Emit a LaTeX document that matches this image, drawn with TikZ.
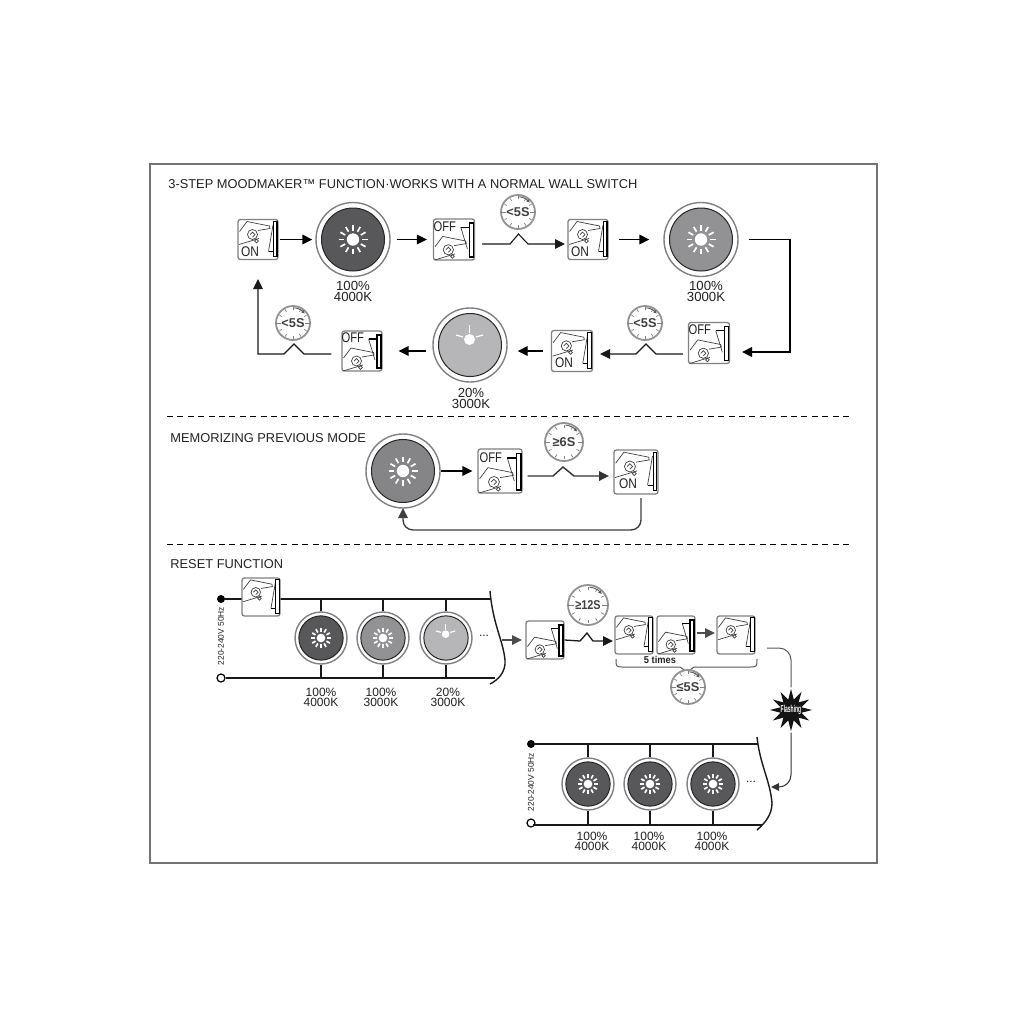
\documentclass[tikz,border=0pt]{standalone}
\usepackage{fontspec}
\usepackage{graphicx}
\setmainfont{Liberation Sans}
\usetikzlibrary{arrows.meta,shapes.geometric}
\newcommand\fsz[1]{\fontsize{#1}{#1}\selectfont}
\definecolor{ink}{HTML}{222222}
\definecolor{edge}{HTML}{808080}
\definecolor{lampA}{HTML}{58585A}
\definecolor{lampB}{HTML}{929294}
\definecolor{lampC}{HTML}{B6B6B8}
\definecolor{lampD}{HTML}{858587}
\tikzset{
  conn/.style={line width=.7pt,draw=black},
  thinconn/.style={line width=.55pt,draw=black!90},
  tip/.style={-{Triangle[length=5pt,width=4.8pt]}},
  smalltip/.style={-{Triangle[length=4pt,width=3.8pt]}},
  swbox/.style={draw=edge,fill=white,line width=.65pt,rounded corners=1.2pt,inner sep=0pt},
  lampout/.style={circle,draw=edge,fill=white,line width=.7pt,inner sep=0pt},
  clockface/.style={circle,draw=edge!85,fill=white,line width=.9pt,inner sep=0pt,text=black!75,font=\bfseries\fsz{6.4pt}},
  lbl/.style={text=ink,inner sep=0pt,align=center,font=\fsz{6.6pt}},
  slbl/.style={text=ink,inner sep=0pt,align=center,font=\fsz{6pt}},
  head/.style={text=ink,inner sep=0pt,anchor=west,font=\fsz{6.42pt}},
  volt/.style={text=ink,inner sep=0pt,rotate=90,font=\fsz{4.2pt}},
  rail/.style={line width=.7pt,draw=black!90},
  divider/.style={line width=.5pt,draw=black,dash pattern=on 3pt off 2.2pt},
  handline/.style={line width=.35pt,draw=black!75},
}
\newcommand\handshape{%
  \draw[handline] (-18.5,-8) -- (-11,-18) -- (11.5,-13.5) -- (12,-11) -- (0,-9);
  \draw[handline] (1,-1) -- (-19,5);
  \draw[handline] (-5.5,-5) circle (5);
  \draw[handline] (-8,-5) -- (-5.5,-7.5) -- (-3,-5) -- (-5.5,-2.5);
  \draw[handline] (-1.5,1.5) circle (1.8);
}
% name x y size text
\newcommand\swon[5]{%
  \node[swbox,minimum size=#4*.5pt] (#1) at (#2,#3) {};
  \begin{scope}[shift={(#1.center)},scale=#4/40]
    \handshape
    \draw[handline] (15,-14.5) -- (10.5,12);
    \draw[line width=.5pt] (10.5,12) -- (15.5,12);
    \draw[line width=.55pt,fill=white] (15.5,-18) rectangle (19,17);
  \end{scope}
  \node[text=ink,inner sep=0pt] (#1t) at ([xshift=-4pt,yshift=-6pt]#1.center) {\fsz{7pt}\scalebox{.85}[1]{#5}};
}
\newcommand\swoff[5]{%
  \node[swbox,minimum size=#4*.5pt] (#1) at (#2,#3) {};
  \begin{scope}[shift={(#1.center)},scale=#4/40]
    \begin{scope}[shift={(0,15)}]\handshape\end{scope}
    \draw[handline] (13,9) -- (6.6,-12);
    \draw[line width=.7pt] (6.6,-12) -- (15,-12);
    \draw[line width=.8pt,fill=white] (15,-16) rectangle (19,17);
  \end{scope}
  \node[text=ink,inner sep=0pt] (#1t) at ([xshift=-4.6pt,yshift=6.5pt]#1.center) {\fsz{7pt}\scalebox{.8}[1]{#5}};
}
% name x y R fill
\newcommand\lampbase[5]{%
  \node[lampout,minimum size=#4*1pt] (#1) at (#2,#3) {};
  \begin{scope}[shift={(#1.center)},scale=#4/37]
    \draw[line width=.5pt,draw=black!85,fill=#5] (0,0) circle (31.5);
}
\newcommand\lampsun[5]{%
  \lampbase{#1}{#2}{#3}{#4}{#5}
    \fill[white] (0,0) circle (6.2);
    \foreach \a in {0,30,...,330}
      \draw[white,line width=.85pt] (\a:9) -- (\a:14.5);
  \end{scope}
}
\newcommand\lampdim[5]{%
  \lampbase{#1}{#2}{#3}{#4}{#5}
    \fill[white] (-.5,-5.5) circle (5.5);
    \draw[white,line width=.6pt] (-.5,-12) -- (-.5,-20);
    \draw[white,line width=.6pt] (-7,-8) -- (-14,-10);
    \draw[white,line width=.6pt] (6,-8) -- (13,-10);
  \end{scope}
}
% name x y r text
\newcommand\clocknode[5]{%
  \node[clockface,minimum size=#4*1pt] (#1) at (#2,#3) {#5};
  \begin{scope}[shift={(#1.center)}]
    \foreach \a in {30,60,120,150,210,240,300,330,90,270}
      \draw[edge,line width=.35pt] (\a:{#4*.76}) -- (\a:{#4*.92});
    \draw[edge,line width=.45pt] (-#4*.98,0) -- (-#4*.72,0);
    \draw[edge,line width=.45pt] (#4*.98,0) -- (#4*.72,0);
    \draw[black!65,line width=.45pt,-{Latex[length=1.8pt,width=1.8pt]}] (-85:{#4*.9}) -- (-70:{#4*.9}) -- (-55:{#4*.9}) -- (-38:{#4*.88});
  \end{scope}
}
\begin{document}
\begin{tikzpicture}[x=.5pt,y=-.5pt]
\fill[white] (0,0) rectangle (1024,1024);
\useasboundingbox (0,0) rectangle (1024,1024);
\draw[draw=edge!90!black,line width=1pt] (150,164) rectangle (877,863);
\draw[divider] (167,416) -- (851,416);
\draw[divider] (167,544) -- (851,544);

\node[head] (h1) at (168,184) {3-STEP MOODMAKER™ FUNCTION·WORKS WITH A NORMAL WALL SWITCH};
\node[head] (h2) at (170,438) {MEMORIZING PREVIOUS MODE};
\node[head] (h3) at (170,564) {RESET FUNCTION};

% row 1
\swon{a1}{258}{239.5}{40}{ON}
\lampsun{a2}{353}{239.5}{37}{lampA}
\swoff{a3}{454}{239.5}{41}{OFF}
\clocknode{a4}{518}{212}{17}{<5S}
\swon{a5}{588}{239.5}{40}{ON}
\lampsun{a6}{701}{239.5}{37}{lampB}
\node[lbl] (a2l) at (353,291.5) {100\%\\[-1.2pt]4000K};
\node[lbl] (a6l) at (706,291.5) {100\%\\[-1.2pt]3000K};
% row 2
\swoff{b1}{709}{343}{41}{OFF}
\clocknode{b2}{645}{323}{17}{<5S}
\swon{b3}{572}{351}{41}{ON}
\lampdim{b4}{470}{345}{37}{lampC}
\swoff{b5}{362}{351}{40}{OFF}
\clocknode{b6}{293}{323}{17}{<5S}
\node[lbl] (b4l) at (471,398.5) {20\%\\[-1.2pt]3000K};

\draw[conn,tip,shorten <=.5pt,shorten >=1.5pt] (a1.east) -- (a2.west);
\draw[conn,tip,shorten <=3pt,shorten >=3pt] (a2.east) -- (a3.west);
\coordinate (w1) at (518.5,234);
\draw[thinconn,tip] (a3.east) ++(7,4.5) -- (510,244) -- (w1) -- (528,244) -- (565,244);
\draw[conn,tip,shorten <=5pt,shorten >=7pt] (a5.east) -- (a6.west);
\draw[conn,line width=.9pt,tip] (a6.east) ++(10,0) -- (790,239.5) -- (790,352) -- (742,352);
\coordinate (w2) at (646,344);
\draw[thinconn,tip] (b1.west) ++(-5,11) -- (656,354) -- (w2) -- (636,354) -- (600,354);
\draw[conn,tip,shorten <=4pt,shorten >=5pt] (b3.west) -- (b4.east |- b3.west);
\draw[conn,tip,shorten <=3pt,shorten >=8pt] (b4.west |- b5.east) -- (b5.east);
\coordinate (w3) at (294,344);
\draw[thinconn,tip] (b5.west) ++(-10,3) -- (304,354) -- (w3) -- (284,354) -- (258,354) -- (258,279);

% memorizing
\lampsun{c1}{403}{471}{37}{lampD}
\swoff{c2}{500}{471}{44}{OFF}
\clocknode{c3}{564}{442}{19}{≥6S}
\swon{c4}{636}{472}{44}{ON}
\draw[conn,tip,shorten >=2.5pt] (c1.east) -- (c2.west);
\coordinate (w4) at (563,467);
\draw[thinconn,line width=.7pt,draw=black!80,tip] (c2.east) ++(5,5) -- (553,476) -- (w4) -- (574,476) -- (609,476);
\draw[conn,draw=black!75,rounded corners=5pt,tip] (641,498) -- (641,530) -- (403,530) -- (403,508);

% reset top
\node[circle,fill=black,inner sep=0pt,minimum size=4pt] (d1) at (221,599) {};
\node[circle,draw=black,fill=white,line width=.6pt,inner sep=0pt,minimum size=4pt] (d2) at (221,678) {};
\node[volt] (d3) at (221,636) {220-240V 50Hz};
\coordinate (d4) at (491,599);
\coordinate (d5) at (495,678);
\draw[rail] (d1) -- (d4);
\draw[rail] (d2) -- (d5);
\swon{d6}{261}{597}{38}{}
\lampsun{d7}{321}{638}{26}{lampA}
\lampsun{d8}{383}{638}{26}{lampB}
\lampdim{d9}{446}{638}{26}{lampC}
\foreach \n in {d7,d8,d9} {
  \draw[rail] (\n.north) -- (\n.north |- d4);
  \draw[rail] (\n.south) -- (\n.south |- d5);
}
\node[slbl] (d7l) at (321,697) {100\%\\[-1pt]4000K};
\node[slbl] (d8l) at (381,697) {100\%\\[-1pt]3000K};
\node[slbl] (d9l) at (448,697) {20\%\\[-1pt]3000K};
\node[text=ink,inner sep=0pt,font=\fsz{6pt}] (d10) at (484,636) {...};
\draw[rail] (490,591) .. controls (493,625) and (503,640) .. (505,660) .. controls (506,672) and (498,680) .. (490,684);

\swoff{e1}{545}{640}{38}{}
\clocknode{e2}{588}{605}{20}{\scalebox{.85}[1]{≥12S}}
\swon{e3}{634}{635}{38}{}
\swoff{e4}{676}{635}{38}{}
\swon{e5}{736}{635}{38}{}
\coordinate (e0) at (502,640);
\draw[conn,draw=black!70,tip] (e0) -- (522,640);
\coordinate (w5) at (587,633);
\draw[thinconn,line width=.65pt,tip] (e1.east) -- (580,641) -- (w5) -- (593,641) -- (613,641);
\draw[conn,draw=black!70,tip] (e4.east) ++(1,-2) -- (715,633);
\draw[line width=.5pt,draw=black!65] (616,659) .. controls (616,667) and (616,667) .. (624,667) -- (680,667) -- (687,672) -- (694,667) -- (749,667) .. controls (757,667) and (757,667) .. (757,659);
\node[text=ink,inner sep=0pt,font=\bfseries\fsz{5pt}] (e6) at (660,660) {\scalebox{.93}[1]{5 times}};
\clocknode{e7}{688}{687}{17}{≤5S}

% flashing
\node[star,star points=12,star point ratio=1.95,fill=black!92,inner sep=0pt,minimum size=21pt] (f1) at (791,710) {};
\node[text=white,inner sep=0pt,font=\bfseries\fsz{5pt}] (f1t) at (791,710) {\scalebox{.5}[1]{Flashing}};
\coordinate (f2) at (767,648);
\draw[line width=.5pt,draw=black!65,rounded corners=6pt] (f2) -- (791,648) -- (f1.north);
\draw[line width=.5pt,draw=black!80,rounded corners=6pt,smalltip] (f1.south) -- (791,787) -- (771,787);

% reset bottom
\node[circle,fill=black,inner sep=0pt,minimum size=4pt] (g1) at (531,744) {};
\node[circle,draw=black,fill=white,line width=.6pt,inner sep=0pt,minimum size=4pt] (g2) at (531,823) {};
\node[volt] (g3) at (531,782) {220-240V 50Hz};
\coordinate (g4) at (758,745);
\coordinate (g5) at (762,825);
\draw[rail] (g1) -- (g1 -| g4);
\draw[rail] (g2) ++(2,2) -- (g5);
\lampsun{g6}{588}{784}{26}{lampA}
\lampsun{g7}{650}{784}{26}{lampA}
\lampsun{g8}{713}{784}{26}{lampA}
\foreach \n in {g6,g7,g8} {
  \draw[rail] (\n.north) -- (\n.north |- g4);
  \draw[rail] (\n.south) -- (\n.south |- g5);
}
\node[slbl] (g6l) at (592,841) {100\%\\[-1pt]4000K};
\node[slbl] (g7l) at (649,841) {100\%\\[-1pt]4000K};
\node[slbl] (g8l) at (712,841) {100\%\\[-1pt]4000K};
\node[text=ink,inner sep=0pt,font=\fsz{6pt}] (g10) at (751,782) {...};
\draw[rail] (757,737) .. controls (760,765) and (770,780) .. (772,803) .. controls (772,815) and (765,823) .. (757,830);
\end{tikzpicture}
\end{document}
